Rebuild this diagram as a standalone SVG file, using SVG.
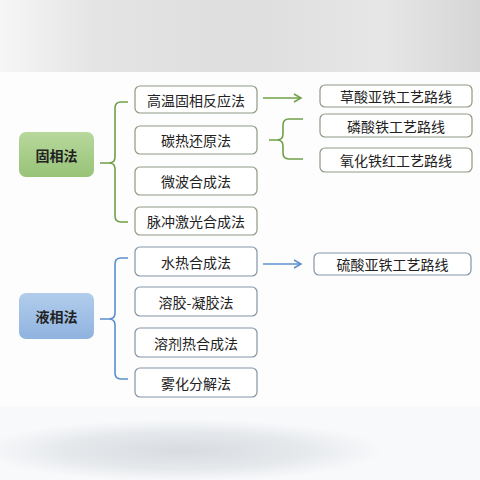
<svg xmlns="http://www.w3.org/2000/svg" width="480" height="480" viewBox="0 0 480 480">
  <defs>
    <linearGradient id="gRoot" x1="0" y1="0" x2="0" y2="1">
      <stop offset="0" stop-color="#b8d89d"/>
      <stop offset="1" stop-color="#97c377"/>
    </linearGradient>
    <linearGradient id="bRoot" x1="0" y1="0" x2="0" y2="1">
      <stop offset="0" stop-color="#b2cdec"/>
      <stop offset="1" stop-color="#8fb3df"/>
    </linearGradient>
    <linearGradient id="topBg" x1="0" y1="0" x2="1" y2="0">
      <stop offset="0" stop-color="#f6f6f6"/>
      <stop offset="0.2" stop-color="#e4e4e4"/>
      <stop offset="0.5" stop-color="#dedede"/>
      <stop offset="0.8" stop-color="#e6e6e6"/>
      <stop offset="1" stop-color="#d6d6d6"/>
    </linearGradient>
    <radialGradient id="botBg" cx="0.38" cy="0.6" r="0.42">
      <stop offset="0" stop-color="#d8dbdf"/>
      <stop offset="0.6" stop-color="#e6e9ec"/>
      <stop offset="1" stop-color="#f8f9fb"/>
    </radialGradient>
    <marker id="arrG" markerWidth="10" markerHeight="10" refX="8" refY="5" orient="auto" markerUnits="userSpaceOnUse">
      <path d="M1,1 L8,5 L1,9" fill="none" stroke="#6fa048" stroke-width="1.5"/>
    </marker>
    <marker id="arrB" markerWidth="10" markerHeight="10" refX="8" refY="5" orient="auto" markerUnits="userSpaceOnUse">
      <path d="M1,1 L8,5 L1,9" fill="none" stroke="#5b8fcc" stroke-width="1.5"/>
    </marker>
  </defs>
  <style>
    text { font-family: "Noto Sans CJK SC", "Noto Sans", sans-serif; font-size: 14px; fill: #222; text-anchor: middle; dominant-baseline: central; }
    .root { font-weight: bold; }
    .boxG { fill: #ffffff; stroke: #8e9a84; stroke-width: 1.2; }
    .boxB { fill: #ffffff; stroke: #8494a6; stroke-width: 1.2; }
    .lineG { fill: none; stroke: #6fa048; stroke-width: 1.6; }
    .lineB { fill: none; stroke: #5b8fcc; stroke-width: 1.6; }
  </style>

  <rect x="0" y="0" width="480" height="72" fill="url(#topBg)"/>
  <rect x="0" y="72" width="480" height="334" fill="#fdfdfd"/>
  <rect x="0" y="406" width="480" height="74" fill="#f8f9fb"/>
  <rect x="0" y="406" width="480" height="74" fill="url(#botBg)"/>

  <g id="connectors">
    <path class="lineG" d="M128,102 H121 Q115,102 115,108 V157 Q115,163 109,163 H100 M109,163 Q115,163 115,169 V216 Q115,222 121,222 H128"/>
    <path class="lineG" d="M263,98 H301" marker-end="url(#arrG)"/>
    <path class="lineG" d="M303,119 H289 Q283,119 283,125 V134 Q283,140 277,140 H269 M277,140 Q283,140 283,146 V153 Q283,159 289,159 H303"/>
    <path class="lineB" d="M128,258 H121 Q115,258 115,264 V313 Q115,319 109,319 H100 M109,319 Q115,319 115,325 V373 Q115,379 121,379 H128"/>
    <path class="lineB" d="M263,264 H301" marker-end="url(#arrB)"/>
  </g>

  <g id="solid">
    <rect x="19" y="132" width="75" height="45" rx="7" fill="url(#gRoot)"/>
    <text class="root" x="56.5" y="154.5">固相法</text>
  </g>
  <g id="s1"><rect class="boxG" x="135" y="86" width="122" height="27" rx="5"/><text x="196" y="99.5">高温固相反应法</text></g>
  <g id="s2"><rect class="boxG" x="135" y="126" width="122" height="28" rx="5"/><text x="196" y="140">碳热还原法</text></g>
  <g id="s3"><rect class="boxG" x="135" y="167" width="122" height="28" rx="5"/><text x="196" y="181">微波合成法</text></g>
  <g id="s4"><rect class="boxG" x="135" y="207" width="122" height="28" rx="5"/><text x="196" y="221">脉冲激光合成法</text></g>
  <g id="r1"><rect class="boxG" x="320" y="85" width="152" height="22" rx="5"/><text x="396" y="96">草酸亚铁工艺路线</text></g>
  <g id="r2"><rect class="boxG" x="320" y="114" width="152" height="23" rx="5"/><text x="396" y="125.5">磷酸铁工艺路线</text></g>
  <g id="r3"><rect class="boxG" x="320" y="148" width="152" height="24" rx="5"/><text x="396" y="160">氧化铁红工艺路线</text></g>

  <g id="liquid">
    <rect x="19" y="293" width="75" height="46" rx="7" fill="url(#bRoot)"/>
    <text class="root" x="56.5" y="316">液相法</text>
  </g>
  <g id="l1"><rect class="boxB" x="135" y="247" width="122" height="29" rx="5"/><text x="196" y="261.5">水热合成法</text></g>
  <g id="l2"><rect class="boxB" x="135" y="287" width="122" height="29" rx="5"/><text x="196" y="301.5">溶胶-凝胶法</text></g>
  <g id="l3"><rect class="boxB" x="135" y="328" width="122" height="29" rx="5"/><text x="196" y="342.5">溶剂热合成法</text></g>
  <g id="l4"><rect class="boxB" x="135" y="368" width="122" height="29" rx="5"/><text x="196" y="382.5">雾化分解法</text></g>
  <g id="lr1"><rect class="boxB" x="314" y="253" width="157" height="22" rx="5"/><text x="392.5" y="264">硫酸亚铁工艺路线</text></g>
</svg>
